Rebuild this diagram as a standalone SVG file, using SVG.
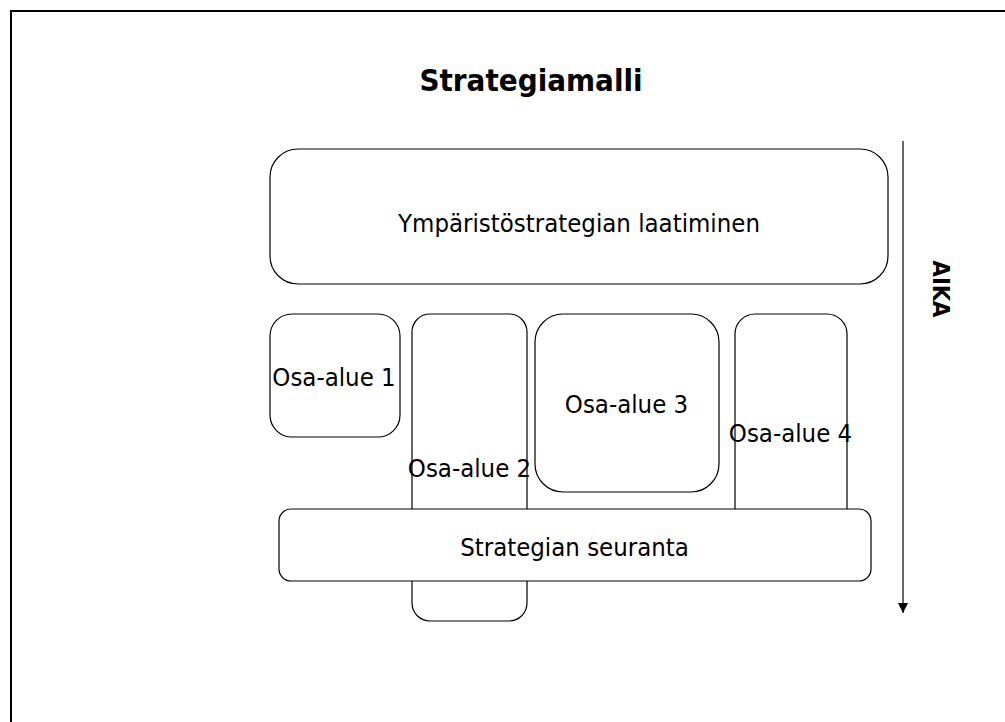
<svg xmlns="http://www.w3.org/2000/svg" width="1005" height="722" viewBox="0 0 1005 722">
  <style>
    .box { fill: #ffffff; stroke: #000000; stroke-width: 1.2; }
    .lbl { font-family: "DejaVu Sans Condensed", "DejaVu Sans", "Liberation Sans", sans-serif; font-stretch: condensed; font-size: 25.5px; fill: #000000; text-anchor: middle; }
    .ttl { font-family: "DejaVu Sans Condensed", "DejaVu Sans", "Liberation Sans", sans-serif; font-stretch: condensed; font-size: 31px; font-weight: bold; fill: #000000; text-anchor: middle; }
    .axis { font-family: "DejaVu Sans Condensed", "DejaVu Sans", "Liberation Sans", sans-serif; font-stretch: condensed; font-size: 23.5px; font-weight: bold; fill: #000000; text-anchor: middle; }
  </style>
  <defs>
    <marker id="arrowhead" markerWidth="10" markerHeight="10" refX="10" refY="5" orient="auto" markerUnits="userSpaceOnUse" viewBox="0 0 10 10">
      <path d="M0,0 L10,5 L0,10 Z" fill="#000000"/>
    </marker>
  </defs>

  <rect width="1005" height="722" fill="#ffffff"/>
  <!-- page frame -->
  <rect x="11" y="11" width="1100" height="800" fill="none" stroke="#000000" stroke-width="2"/>

  <text class="ttl" x="531" y="91">Strategiamalli</text>

  <g id="laatiminen">
    <rect class="box" x="270" y="149" width="618" height="135" rx="28" ry="28"/>
    <text class="lbl" x="579" y="232">Ympäristöstrategian laatiminen</text>
  </g>

  <g id="osa-alue-1">
    <rect class="box" x="270" y="314" width="130" height="123" rx="22" ry="22"/>
    <text class="lbl" x="334" y="386">Osa-alue 1</text>
  </g>

  <g id="osa-alue-2">
    <rect class="box" x="412" y="314" width="115" height="307" rx="18" ry="18"/>
  </g>

  <g id="osa-alue-3">
    <rect class="box" x="535" y="314" width="184" height="178" rx="28" ry="28"/>
    <text class="lbl" x="626.5" y="413">Osa-alue 3</text>
  </g>

  <g id="osa-alue-4">
    <rect class="box" x="735" y="314" width="112" height="240" rx="20" ry="20"/>
  </g>

  <g id="seuranta">
    <rect class="box" x="279" y="509" width="592" height="72" rx="12" ry="12"/>
    <text class="lbl" x="574.5" y="556">Strategian seuranta</text>
  </g>

  <!-- labels that spill over their box outlines -->
  <text class="lbl" x="469.5" y="477">Osa-alue 2</text>
  <text class="lbl" x="790.5" y="442">Osa-alue 4</text>

  <g id="connectors">
    <line x1="903" y1="141" x2="903" y2="613" stroke="#000000" stroke-width="1.2" marker-end="url(#arrowhead)"/>
  </g>

  <g id="aika">
    <text class="axis" transform="translate(933,289) rotate(90)">AIKA</text>
  </g>
</svg>
